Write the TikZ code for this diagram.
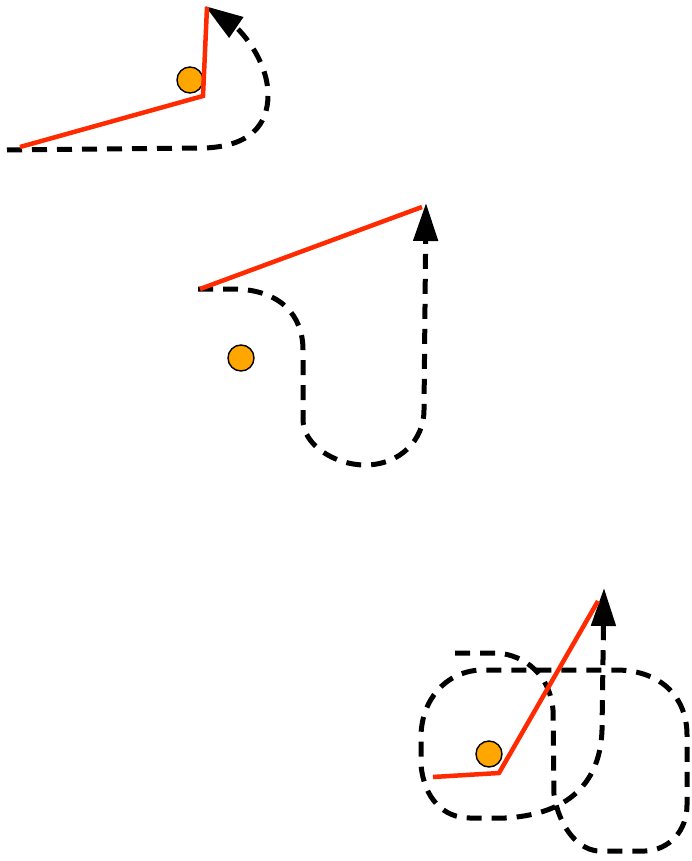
\documentclass[tikz,border=0pt]{standalone}
\usepackage{tikz}
\usepackage{xcolor}
\usetikzlibrary{arrows.meta}
\definecolor{trkred}{HTML}{FF2A00}
\definecolor{trkorange}{HTML}{FFA600}

\begin{document}
\begin{tikzpicture}[x=1pt, y=-1pt,
  rLine/.style   ={draw=trkred, line width=4.5pt},
  dPath/.style   ={draw=black, line width=5pt, dash pattern=on 15pt off 10pt,
                   -{Triangle[length=38pt, width=24pt]}},
  mBall/.style   ={circle, draw=black, fill=trkorange, inner sep=0pt, minimum size=26pt, line width=1.4pt},
]
% page in pixel units, y pointing down
\useasboundingbox (0,0) rectangle (691,861);

% top: short hook round the corner
\coordinate (aStart) at (7,150);
\coordinate (aTip)   at (205,6);
\draw[dPath] (aStart) -- (205,148) .. controls (250,146) and (268,125) .. (268,95)
  .. controls (268,60) and (240,30) .. (aTip);
\node[mBall] (ballA) at (190,80) {};
\coordinate (aRedA) at (20,147);
\coordinate (aRedB) at (203,96);
\coordinate (aRedC) at (207,7);
\draw[rLine] (aRedA) -- (aRedB) -- (aRedC);

% middle: one loop below the ball
\coordinate (bStart) at (198,289);
\coordinate (bTip)   at (426,203);
\draw[dPath] (bStart) -- (235,289) .. controls (280,290) and (303,315) .. (303,350)
  -- (303,420) .. controls (303,445) and (335,465) .. (365,465)
  .. controls (400,465) and (424,440) .. (424,410) -- (bTip);
\node[mBall] (ballB) at (241,358) {};
\coordinate (bRedA) at (200,289);
\coordinate (bRedB) at (422,207);
\draw[rLine] (bRedA) -- (bRedB);

% bottom: crossed loops round the ball
\coordinate (cStart) at (455,653);
\coordinate (cTip)   at (604,588);
\draw[dPath] (cStart) -- (497,653) .. controls (525,655) and (550,675) .. (553,710)
  -- (554,795) .. controls (560,830) and (580,851) .. (600,851)
  -- (645,851) .. controls (670,850) and (687,830) .. (687,805)
  -- (687,735) .. controls (687,698) and (662,671) .. (618,670)
  -- (480,670) .. controls (445,672) and (422,700) .. (421,735)
  -- (421,765) .. controls (424,798) and (443,818) .. (470,818)
  -- (505,818) .. controls (560,815) and (600,790) .. (602,730) -- (cTip);
\node[mBall] (ballC) at (489,754) {};
\coordinate (cRedA) at (433,777);
\coordinate (cRedB) at (499,773);
\coordinate (cRedC) at (598,601);
\draw[rLine] (cRedA) -- (cRedB) -- (cRedC);
\end{tikzpicture}
\end{document}
